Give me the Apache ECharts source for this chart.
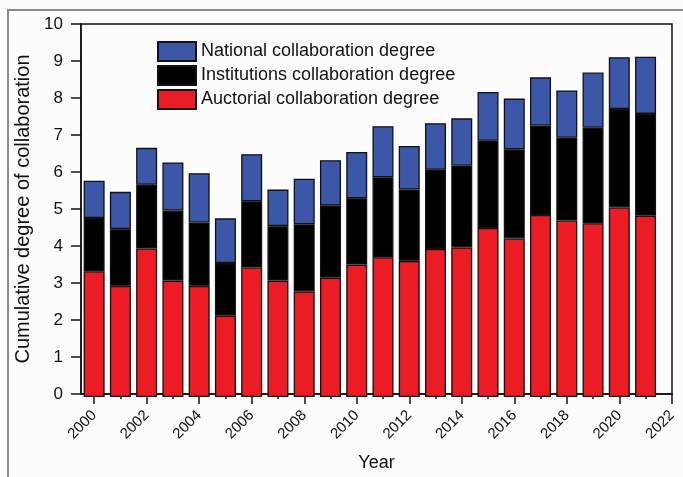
<!DOCTYPE html>
<html>
<head>
<meta charset="utf-8">
<script src="https://cdn.jsdelivr.net/npm/echarts@6/dist/echarts.min.js"></script>
<style>
html,body{margin:0;padding:0;background:#fcfcfc;}
#c{width:683px;height:477px;}
</style>
</head>
<body>
<div id="c"></div>
<script>
var years = ['2000','2001','2002','2003','2004','2005','2006','2007','2008','2009','2010','2011','2012','2013','2014','2015','2016','2017','2018','2019','2020','2021'];
var auctorial = [3.37,2.98,3.98,3.12,2.98,2.18,3.47,3.12,2.83,3.20,3.55,3.75,3.65,3.97,4.01,4.53,4.25,4.88,4.73,4.66,5.08,4.86];
var institutions = [1.43,1.52,1.71,1.88,1.70,1.41,1.78,1.46,1.80,1.93,1.78,2.14,1.91,2.12,2.19,2.34,2.39,2.40,2.22,2.56,2.64,2.73];
var national = [1.00,1.00,0.99,1.29,1.32,1.20,1.26,0.98,1.22,1.22,1.24,1.37,1.17,1.25,1.27,1.31,1.36,1.29,1.27,1.48,1.39,1.53];
var majorTicks = [2000,2002,2004,2006,2008,2010,2012,2014,2016,2018,2020,2022];
var minorTicks = [2001,2003,2005,2007,2009,2011,2013,2015,2017,2019,2021];
var seriesNames = ['National collaboration degree','Institutions collaboration degree','Auctorial collaboration degree'];

var chart = echarts.init(document.getElementById('c'));
var font = 'Liberation Sans, Arial, sans-serif';
var barStyle = function(color){ return {color:color, borderColor:'#111', borderWidth:1.3}; };
chart.setOption({
  backgroundColor:'#fcfcfc',
  animation:false,
  textStyle:{fontFamily:font},
  graphic:[{type:'polyline', shape:{points:[[8,477],[8,10],[683,10]]}, style:{stroke:'#8a8a8a', lineWidth:2, fill:null}}],
  legend:{
    orient:'vertical', left:152, top:36, itemWidth:38, itemHeight:19, itemGap:3,
    data:seriesNames, icon:'rect',
    textStyle:{fontSize:18, color:'#111', fontFamily:font}
  },
  grid:[
    {left:81, right:11, top:24, bottom:80, show:true, borderColor:'#111', borderWidth:1.5, backgroundColor:'transparent'},
    {left:81, right:24.3, top:24, bottom:80}
  ],
  xAxis:[{
    gridIndex:0, type:'value', min:1999.5, max:2022,
    name:'Year', nameLocation:'middle', nameGap:60,
    nameTextStyle:{fontSize:18, color:'#111', fontFamily:font},
    axisLine:{show:true, lineStyle:{color:'#111', width:1.5}},
    axisTick:{show:true, customValues:majorTicks, length:10, lineStyle:{color:'#111', width:1.5}},
    axisLabel:{customValues:majorTicks, rotate:45, fontSize:15, color:'#111', margin:19, fontFamily:font,
      formatter:function(v){ return String(v); }},
    splitLine:{show:false}
  },{
    gridIndex:0, type:'value', min:1999.5, max:2022, position:'bottom',
    axisLine:{show:false},
    axisTick:{show:true, customValues:minorTicks, length:5, lineStyle:{color:'#111', width:1.5}},
    axisLabel:{show:false},
    splitLine:{show:false}
  },{
    gridIndex:1, type:'category', data:years, boundaryGap:true,
    axisLine:{show:false}, axisTick:{show:false}, axisLabel:{show:false}, splitLine:{show:false}
  }],
  yAxis:[{
    gridIndex:0, type:'value', min:0, max:10, interval:1,
    name:'Cumulative degree of collaboration', nameLocation:'middle', nameGap:45,
    nameTextStyle:{fontSize:20, color:'#111', fontFamily:font},
    axisLine:{show:true, lineStyle:{color:'#111', width:1.5}},
    axisTick:{show:true, length:10, lineStyle:{color:'#111', width:1.5}},
    axisLabel:{fontSize:17, color:'#111', margin:18, fontFamily:font},
    splitLine:{show:false}
  },{
    gridIndex:1, type:'value', min:0, max:10, interval:1, show:false
  }],
  series:[
    {name:seriesNames[2], type:'bar', stack:'t', xAxisIndex:2, yAxisIndex:1, barWidth:21, data:auctorial, itemStyle:barStyle('#ec1c24')},
    {name:seriesNames[1], type:'bar', stack:'t', xAxisIndex:2, yAxisIndex:1, barWidth:21, data:institutions, itemStyle:barStyle('#000000')},
    {name:seriesNames[0], type:'bar', stack:'t', xAxisIndex:2, yAxisIndex:1, barWidth:21, data:national, itemStyle:barStyle('#3c56a8')}
  ]
});
</script>
</body>
</html>
